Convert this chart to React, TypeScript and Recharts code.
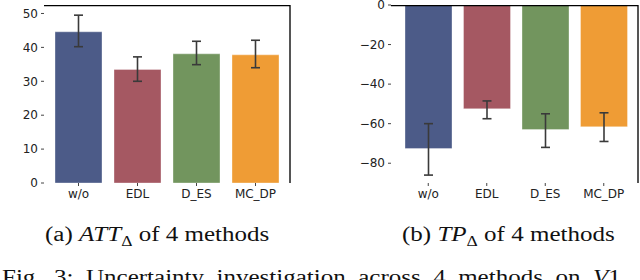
import React from "react";
import { BarChart, Bar, XAxis, YAxis, ErrorBar, Cell, ReferenceLine } from "recharts";

const methods = ["w/o", "EDL", "D_ES", "MC_DP"];
const colors = ["#4C5B88", "#A55862", "#72955E", "#EF9C35"];

const attValues = [44.6, 33.5, 38.1, 37.8];
const attLow = [40.2, 30.0, 34.9, 34.0];
const attHigh = [49.5, 37.2, 41.8, 42.1];
const attTicks = [0, 10, 20, 30, 40, 50];

const tpValues = [-72.6, -52.5, -63.0, -61.6];
const tpLow = [-86.0, -57.5, -72.0, -69.0];
const tpHigh = [-60.0, -48.5, -55.0, -54.5];
const tpTicks = [0, -20, -40, -60, -80];

const build = (vals: number[], lo: number[], hi: number[]) =>
  methods.map((m, i) => ({
    name: m,
    value: vals[i],
    err: [vals[i] - lo[i], hi[i] - vals[i]],
  }));

const attData = build(attValues, attLow, attHigh);
const tpData = build(tpValues, tpLow, tpHigh);

const sans = "DejaVu Sans";
const tickStyle = { fontFamily: sans, fontSize: 12, fill: "#222" };
const minus = (v: number) => String(v).replace("-", "\u2212");

const serif: React.CSSProperties = {
  position: "absolute",
  fontFamily: "Liberation Serif",
  fontSize: 20,
  color: "#111",
  whiteSpace: "nowrap",
  lineHeight: "20px",
  transformOrigin: "left top",
  transform: "scaleX(1.25)",
};

function Panel({ data, domain, ticks, yWidth, rightMargin, padL, padR }: any) {
  return (
    <BarChart
      width={320}
      height={210}
      data={data}
      margin={{ top: 5, right: rightMargin, bottom: 0, left: 0 }}
    >
      <XAxis
        dataKey="name"
        axisLine={false}
        tickLine={{ stroke: "#444" }}
        tickSize={3}
        tickMargin={3}
        height={27}
        interval={0}
        padding={{ left: padL, right: padR }}
        tick={tickStyle}
      />
      <XAxis xAxisId="h" dataKey="name" hide />
      <YAxis
        domain={domain}
        ticks={ticks}
        type="number"
        width={yWidth}
        interval={0}
        axisLine={false}
        tickLine={{ stroke: "#444" }}
        tickSize={3}
        tickMargin={3}
        tick={tickStyle}
        tickFormatter={minus}
        allowDataOverflow
      />
      <YAxis
        yAxisId="r"
        orientation="right"
        type="number"
        domain={domain}
        width={1}
        tick={false}
        tickLine={false}
        axisLine={{ stroke: "#555", strokeWidth: 2 }}
      />
      <Bar dataKey="value" isAnimationActive={false} barSize={47}>
        {data.map((_: any, i: number) => (
          <Cell key={i} fill={colors[i]} stroke="#ffffff" strokeOpacity={0.35} strokeWidth={1} />
        ))}
        <ErrorBar dataKey="err" width={4.5} stroke="#3a3a3a" strokeWidth={1.6} direction="y" />
      </Bar>
      <Bar dataKey="value" xAxisId="h" yAxisId="r" isAnimationActive={false} fill="none" stroke="none" barSize={0} legendType="none" />
      <ReferenceLine y={domain[1]} stroke="#000" strokeWidth={2.4} ifOverflow="hidden" zIndex={1000} />
    </BarChart>
  );
}

export default function App() {
  return (
    <div
      style={{
        position: "absolute",
        left: 0,
        top: 0,
        width: 640,
        height: 280,
        overflow: "hidden",
        background: "#fff",
      }}
    >
      <div style={{ position: "absolute", left: 0, top: 0 }}>
        <Panel data={attData} domain={[0, 52.5]} ticks={attTicks} yWidth={44} rightMargin={29} padL={5} padR={5} />
      </div>
      <div style={{ position: "absolute", left: 320, top: 0 }}>
        <Panel data={tpData} domain={[-90, 0]} ticks={tpTicks} yWidth={71} rightMargin={1} padL={8} padR={5} />
      </div>
      <div style={{ ...serif, left: 45, top: 224 }}>
        (a) <i>ATT</i>
        <sub style={{ fontSize: 14 }}>Δ</sub> of 4 methods
      </div>
      <div style={{ ...serif, left: 402, top: 224 }}>
        (b) <i>TP</i>
        <sub style={{ fontSize: 14 }}>Δ</sub> of 4 methods
      </div>
      <div style={{ ...serif, left: 2, top: 267, wordSpacing: 5 }}>
        Fig. 3: Uncertainty investigation across 4 methods on <i>V</i>1
      </div>
    </div>
  );
}
